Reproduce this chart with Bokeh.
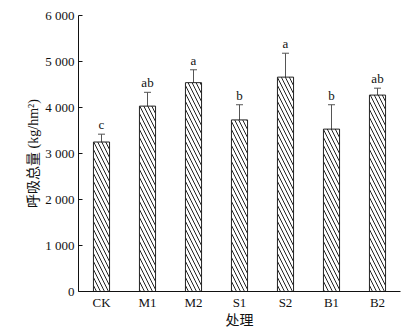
from bokeh.plotting import figure
from bokeh.models import ColumnDataSource, Whisker, TeeHead, FixedTicker, Range1d
from bokeh.core.properties import value
from bokeh.embed import file_html
from bokeh.resources import INLINE

categories = ["CK", "M1", "M2", "S1", "S2", "B1", "B2"]
means = [3250, 4030, 4540, 3730, 4660, 3530, 4270]
errors = [170, 300, 280, 330, 520, 530, 150]
letters = ["c", "ab", "a", "b", "a", "b", "ab"]
y_ticks = [0, 1000, 2000, 3000, 4000, 5000, 6000]
y_tick_labels = ["0", "1 000", "2 000", "3 000", "4 000", "5 000", "6 000"]

upper = [m + e for m, e in zip(means, errors)]
lower = [m - e for m, e in zip(means, errors)]
src = ColumnDataSource(dict(x=categories, top=means, upper=upper, lower=lower, lab=letters))

SERIF = "Liberation Serif"
CJK = "Liberation Serif, Noto Sans CJK SC"

p = figure(x_range=categories, width=412, height=332, output_backend="svg",
           toolbar_location=None, min_border_left=78, min_border_right=12,
           min_border_top=15, min_border_bottom=41)
p.y_range = Range1d(0, 6000)
p.outline_line_color = None
p.xgrid.grid_line_color = None
p.ygrid.grid_line_color = None
p.background_fill_color = "white"
p.border_fill_color = "white"

p.vbar(x="x", top="top", width=0.35, source=src, fill_color="white",
       line_color="#222222", line_width=1, hatch_pattern="\\", hatch_color="#222222",
       hatch_scale=8, hatch_weight=1)

w = Whisker(base="x", upper="upper", lower="lower", source=src,
            line_color="#555555", line_width=1,
            upper_head=TeeHead(size=7, line_color="#555555", line_width=1),
            lower_head=None)
p.add_layout(w)

p.text(x="x", y="upper", text="lab", source=src, text_align="center",
       text_baseline="bottom", y_offset=-2, text_font=value(SERIF),
       text_font_size="13px", text_color="#111111")

p.yaxis.ticker = FixedTicker(ticks=y_ticks)
p.yaxis.major_label_overrides = {t: l for t, l in zip(y_ticks, y_tick_labels)}
p.yaxis.minor_tick_line_color = None
p.yaxis.major_tick_out = 0
p.yaxis.major_tick_in = 4
p.yaxis.axis_label = "呼吸总量 (kg/hm²)"
p.xaxis.axis_label = "处理"

for ax in (p.xaxis[0], p.yaxis[0]):
    ax.axis_line_color = "#111111"
    ax.axis_line_width = 1
    ax.major_label_text_font = SERIF
    ax.major_label_text_font_size = "13px"
    ax.major_label_text_color = "#111111"
    ax.axis_label_text_font = CJK
    ax.axis_label_text_font_size = "14px"
    ax.axis_label_text_font_style = "normal"
    ax.axis_label_text_color = "#111111"

p.yaxis.major_tick_line_color = "#111111"
p.xaxis.major_tick_line_color = None
p.xaxis.major_tick_out = 0
p.xaxis.major_label_standoff = 3
p.xaxis.axis_label_standoff = 0
p.yaxis.major_label_standoff = 4
p.yaxis.axis_label_standoff = 1

open("out.html", "w").write(file_html(p, INLINE))
